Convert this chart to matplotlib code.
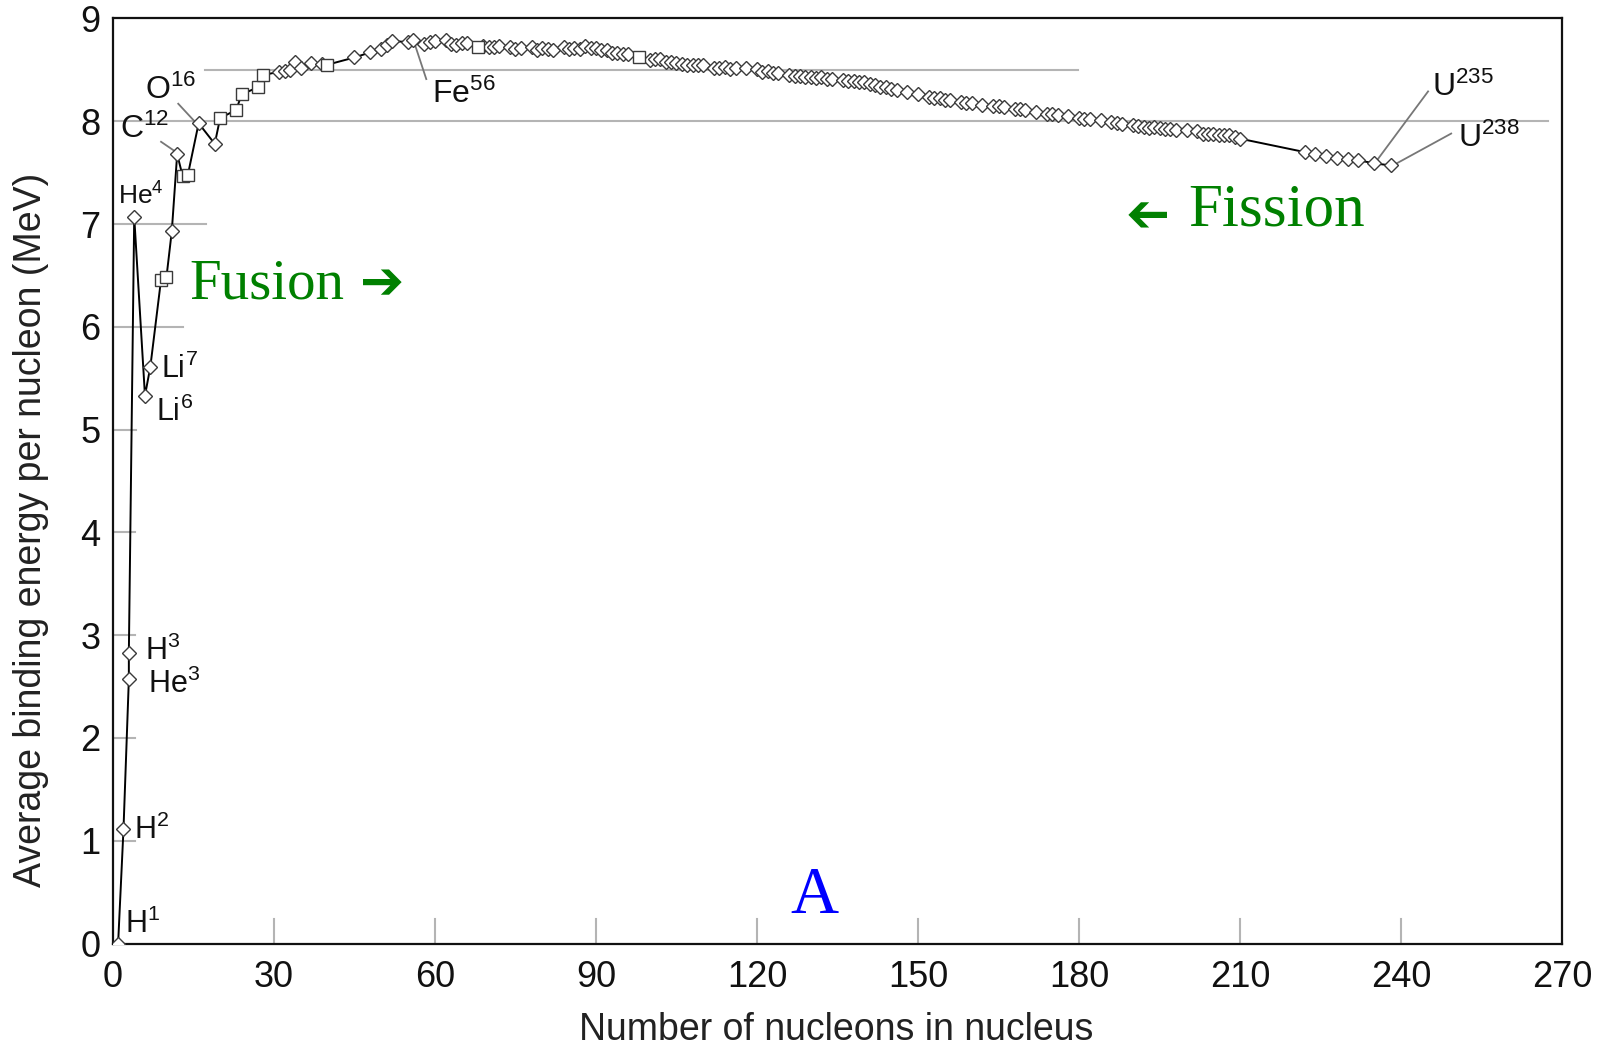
import numpy as np
import matplotlib
matplotlib.use('Agg')
import matplotlib.pyplot as plt

plt.rcParams['font.family'] = ['Liberation Sans', 'DejaVu Sans']
plt.rcParams['mathtext.fontset'] = 'custom'
plt.rcParams['mathtext.rm'] = 'Liberation Sans'
plt.rcParams['mathtext.default'] = 'regular'

# ── Données : nombre de nucléons A et énergie de liaison moyenne (MeV) ──────
mass_number = [
    1, 2, 3, 3, 4, 6, 7, 9, 10, 11, 12, 13, 14, 16, 19, 20, 23, 24, 27, 28,
    31, 32, 33, 34, 35, 37, 39, 40, 45, 48, 50, 51, 52, 55, 56, 58, 59, 60,
    62, 63, 64, 65, 66, 68, 69, 70, 71, 72, 74, 75, 76, 78, 79, 80, 81, 82,
    84, 85, 86, 87, 88, 89, 90, 91, 92, 93, 94, 95, 96, 98, 100, 101, 102,
    103, 104, 105, 106, 107, 108, 109, 110, 112, 113, 114, 115, 116, 118,
    120, 121, 122, 123, 124, 126, 127, 128, 129, 130, 131, 132, 133, 134,
    136, 137, 138, 139, 140, 141, 142, 143, 144, 145, 146, 148, 150, 152,
    153, 154, 155, 156, 158, 159, 160, 162, 164, 165, 166, 168, 169, 170,
    172, 174, 175, 176, 178, 180, 181, 182, 184, 186, 187, 188, 190, 191,
    192, 193, 194, 195, 196, 197, 198, 200, 202, 203, 204, 205, 206, 207,
    208, 209, 210, 222, 224, 226, 228, 230, 232, 235, 238,
]
binding_energy = [
    0.00, 1.11, 2.57, 2.83, 7.07, 5.33, 5.61, 6.46, 6.48, 6.93, 7.68, 7.47,
    7.48, 7.98, 7.78, 8.03, 8.11, 8.26, 8.33, 8.45,
    8.48, 8.49, 8.50, 8.58, 8.52, 8.57, 8.56, 8.55, 8.62, 8.67, 8.70, 8.74,
    8.78, 8.77, 8.79, 8.75, 8.77, 8.78,
    8.79, 8.75, 8.74, 8.76, 8.76, 8.72, 8.73, 8.72, 8.72, 8.73, 8.72, 8.70,
    8.71, 8.72, 8.69, 8.71, 8.70, 8.69,
    8.72, 8.70, 8.71, 8.70, 8.73, 8.71, 8.71, 8.69, 8.69, 8.66, 8.66, 8.65,
    8.65, 8.62, 8.60, 8.61, 8.61,
    8.58, 8.58, 8.57, 8.56, 8.55, 8.55, 8.55, 8.55, 8.52, 8.52, 8.53, 8.51,
    8.52, 8.52,
    8.51, 8.48, 8.49, 8.47, 8.47, 8.45, 8.44, 8.44, 8.43, 8.43, 8.42, 8.43,
    8.41, 8.41,
    8.40, 8.39, 8.39, 8.38, 8.38, 8.36, 8.35, 8.33, 8.33, 8.31, 8.30, 8.28,
    8.26, 8.24,
    8.23, 8.23, 8.21, 8.21, 8.19, 8.18, 8.18, 8.16, 8.15, 8.15, 8.14, 8.12,
    8.12, 8.11,
    8.09, 8.07, 8.07, 8.06, 8.05, 8.03, 8.02, 8.02, 8.01, 7.99, 7.98, 7.97,
    7.96, 7.95,
    7.94, 7.93, 7.94, 7.93, 7.92, 7.92, 7.91, 7.91, 7.90, 7.88, 7.88, 7.88,
    7.87, 7.87,
    7.87, 7.85, 7.83, 7.70, 7.68, 7.66, 7.64, 7.63, 7.62, 7.59, 7.57,
]
# noyaux tracés avec un marqueur carré
square_mass = [9, 10, 13, 14, 20, 23, 24, 27, 28, 40, 68, 98]

# étiquettes : (texte, x, y, taille, point relié ou None)
iso_labels = [
    ('H$^{1}$',    2.3, 0.19, 22, None),
    ('H$^{2}$',    4.0, 1.10, 22, None),
    ('H$^{3}$',    6.1, 2.84, 22, None),
    ('He$^{3}$',   6.5, 2.52, 22, None),
    ('He$^{4}$',   1.0, 7.27, 19, None),
    ('Li$^{6}$',   8.0, 5.17, 22, None),
    ('Li$^{7}$',   9.0, 5.59, 22, None),
    ('C$^{12}$',   1.3, 7.92, 23, (9.0, 7.80, 11.8, 7.70)),
    ('O$^{16}$',   6.1, 8.30, 23, (12.2, 8.17, 15.4, 7.99)),
    ('Fe$^{56}$', 59.5, 8.26, 23, (58.4, 8.41, 56.0, 8.79)),
    ('U$^{235}$', 245.8, 8.33, 23, (245.0, 8.29, 235.2, 7.60)),
    ('U$^{238}$', 250.6, 7.83, 23, (249.3, 7.88, 238.8, 7.58)),
]

x_ticks = list(range(0, 271, 30))
y_ticks = list(range(0, 10))

# ── Figure ────────────────────────────────────────────────────────────────────
fig = plt.figure(figsize=(16.06, 10.47), dpi=100)
ax = fig.add_axes([0.0702, 0.0988, 0.9026, 0.8836])
ax.set_xlim(0, 270)
ax.set_ylim(0, 9)

grid_c = '#b4b4b4'
# lignes de repère partielles
for yv, x1 in [(1, 4.2), (2, 4.2), (3, 4.2), (4, 4.2), (5, 4.3), (6, 13.1), (7, 17.4), (8, 267.4)]:
    ax.plot([0, x1], [yv, yv], color=grid_c, lw=1.5, zorder=1)
ax.plot([17.2, 179.8], [8.5, 8.5], color=grid_c, lw=1.5, zorder=1)
for xv in x_ticks[1:-1]:
    ax.plot([xv, xv], [0, 0.24], color=grid_c, lw=1.5, zorder=1)

A = np.array(mass_number)
B = np.array(binding_energy)
is_sq = np.isin(A, square_mass)

ax.plot(A, B, color='black', lw=1.4, zorder=3)
ax.plot(A[~is_sq], B[~is_sq], ls='none', marker='D', ms=7.3, mfc='white',
        mec='#3a3a3a', mew=1.0, zorder=4)
ax.plot(A[is_sq], B[is_sq], ls='none', marker='s', ms=8.0, mfc='white',
        mec='#3a3a3a', mew=1.0, zorder=4)

for txt, tx, ty, fs, lead in iso_labels:
    ax.text(tx, ty, txt, fontsize=fs, va='center', ha='left', color='#111111', zorder=5)
    if lead is not None:
        ax.plot([lead[0], lead[2]], [lead[1], lead[3]], color='#777777', lw=1.3, zorder=2)

# Fusion / Fission / A
ax.text(14.3, 6.41, 'Fusion', fontsize=41, family='Liberation Serif',
        color='#008000', va='center', ha='left')
ax.text(46.0, 6.41, '\u2794', fontsize=38, family='DejaVu Sans',
        color='#008000', va='center', ha='left', fontweight='bold')
ax.text(191.6, 7.13, '\u2794', fontsize=38, family='DejaVu Sans',
        color='#008000', va='center', ha='center', fontweight='bold', rotation=180)
ax.text(200.4, 7.13, 'Fission', fontsize=44, family='Liberation Serif',
        color='#008000', va='center', ha='left')
ax.text(130.7, 0.46, 'A', fontsize=48, family='Liberation Serif',
        color='#0000ff', va='center', ha='center')

ax.set_xticks(x_ticks)
ax.set_yticks(y_ticks)
ax.tick_params(length=0, labelsize=26, pad=9, colors='#111111')
ax.tick_params(axis='x', pad=12)
ax.set_xlabel('Number of nucleons in nucleus', fontsize=27, color='#222222')
ax.set_ylabel('Average binding energy per nucleon (MeV)', fontsize=27, color='#222222')
ax.xaxis.set_label_coords(0.499, -0.074)
ax.yaxis.set_label_coords(-0.044, 0.447)
for sp in ax.spines.values():
    sp.set_linewidth(1.6)
    sp.set_color('#111111')

fig.savefig('out.png', dpi=100, facecolor='white')
